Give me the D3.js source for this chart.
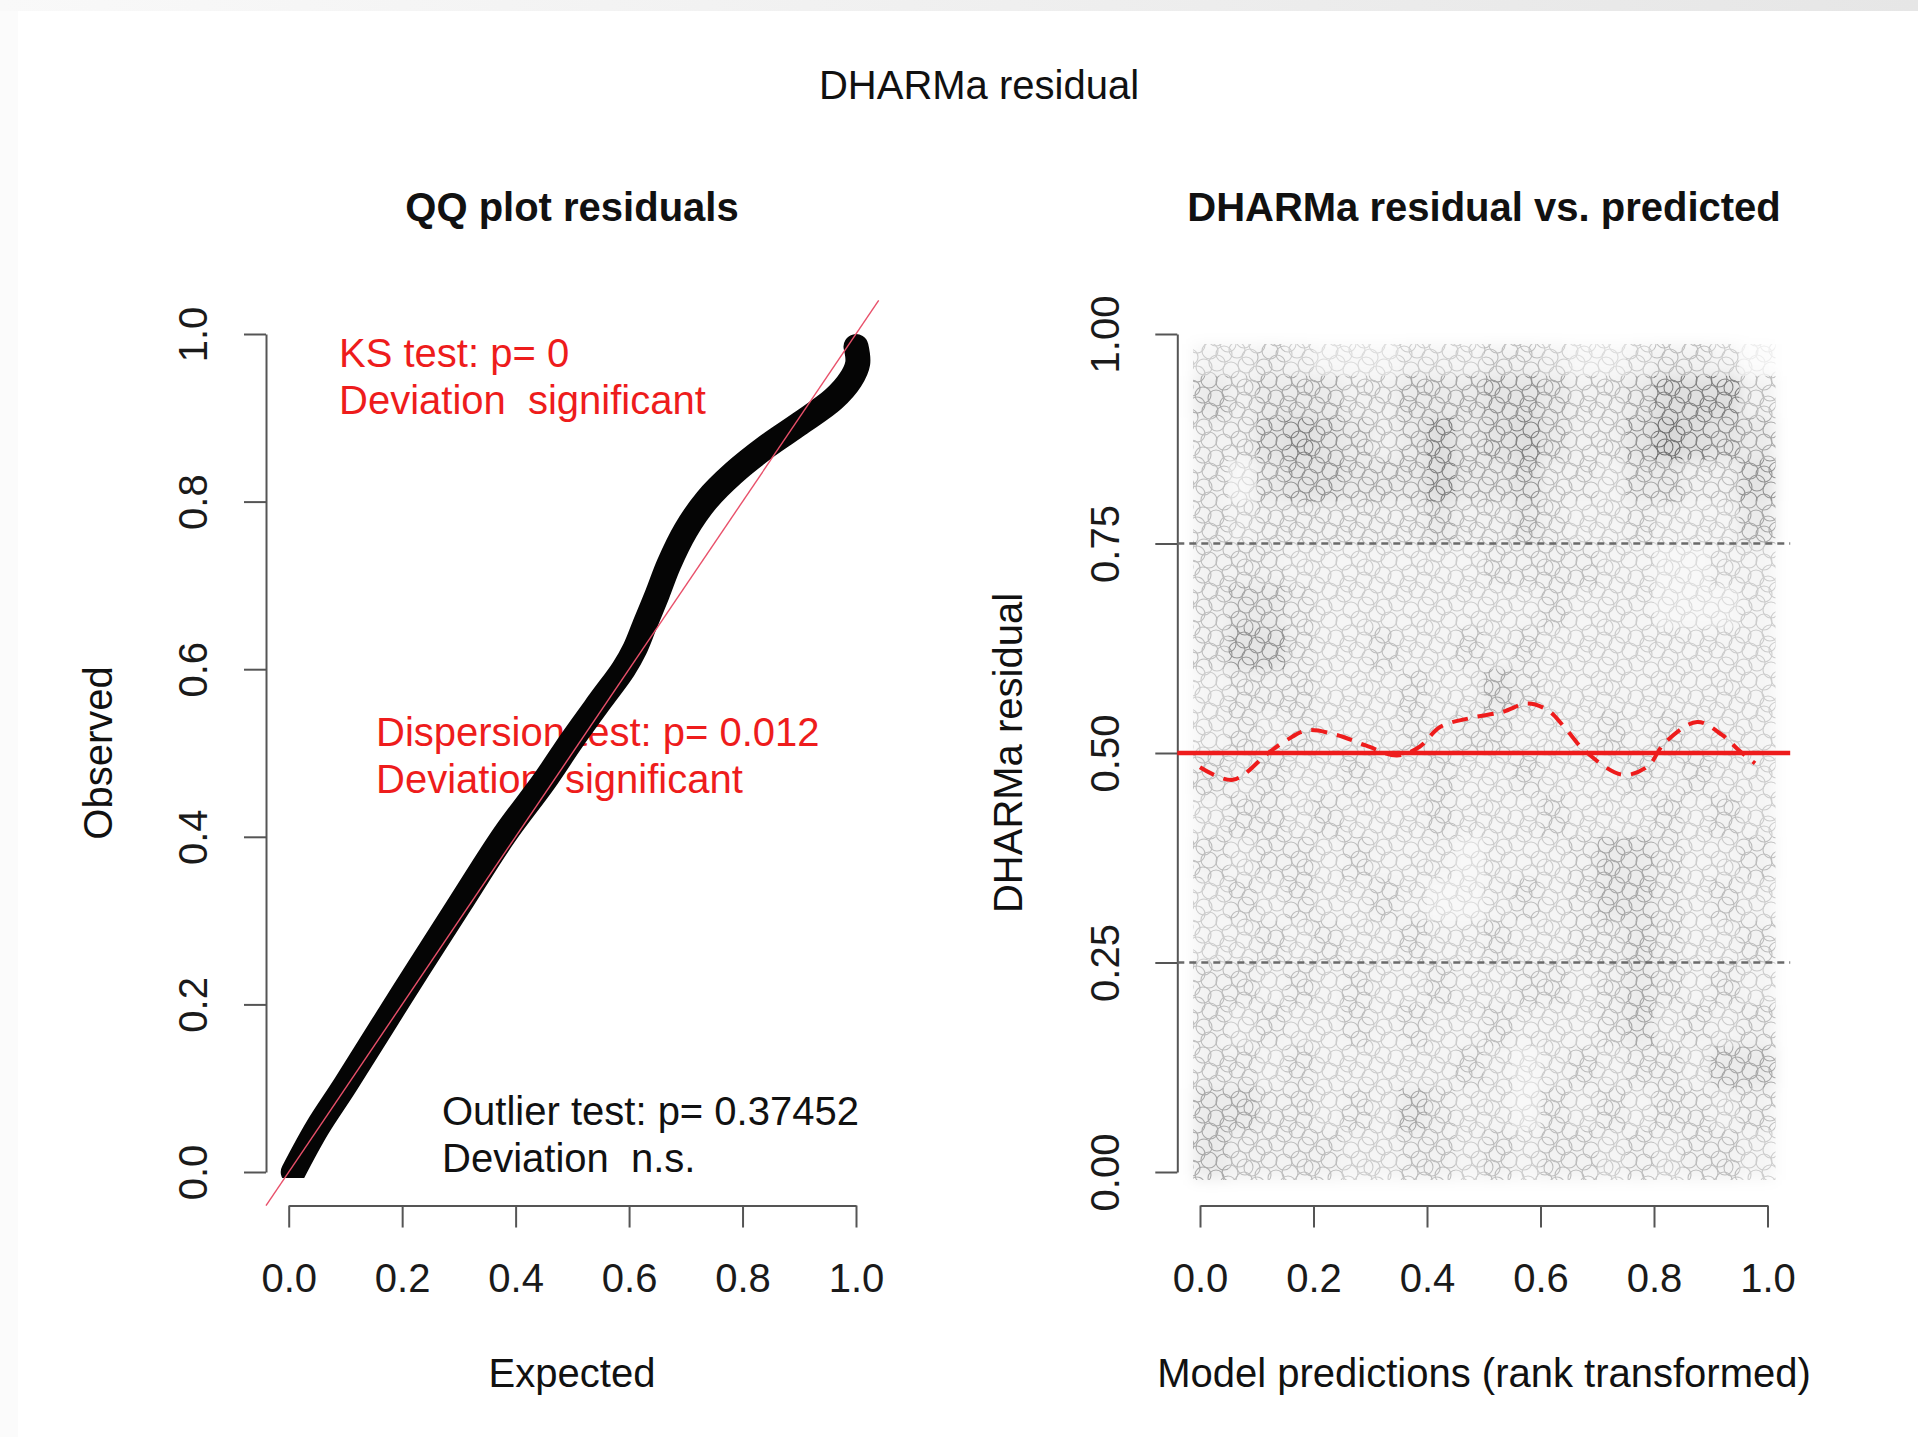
<!DOCTYPE html>
<html><head><meta charset="utf-8">
<script src="https://cdn.jsdelivr.net/npm/d3@7"></script>
<style>
html,body{margin:0;padding:0;background:#fff;}
svg text{font-family:"Liberation Sans",Arial,Helvetica,sans-serif;}
</style></head><body>
<svg id="chart" width="1918" height="1437"></svg>
<script>
// ---------------- data ----------------
const mainTitle = "DHARMa residual";
const qqTitle = "QQ plot residuals";
const resTitle = "DHARMa residual vs. predicted";
const xTicks = [0, 0.2, 0.4, 0.6, 0.8, 1.0];
const yTicksQQ = [0, 0.2, 0.4, 0.6, 0.8, 1.0];
const yTicksRes = [0, 0.25, 0.5, 0.75, 1.0];

// QQ curve (expected vs observed)
const qqExpected = [0.008,0.05,0.10,0.20,0.30,0.38,0.45,0.50,0.55,0.590,0.610,0.627,0.650,0.670,0.700,0.737,0.784,0.843,0.901,0.960,0.990,1.003,1.000];
const qqObserved = [0.000,0.052,0.104,0.212,0.318,0.402,0.466,0.516,0.563,0.600,0.624,0.652,0.690,0.725,0.766,0.802,0.834,0.866,0.893,0.922,0.945,0.965,0.985];

// Test annotations
const ksLines = ["KS test: p= 0", "Deviation  significant"];
const dispLines = ["Dispersion test: p= 0.012", "Deviation  significant"];
const outLines = ["Outlier test: p= 0.37452", "Deviation  n.s."];

// Median quantile spline (red dashed)
const splineX = [0.000,0.058,0.120,0.153,0.189,0.241,0.292,0.347,0.387,0.423,0.474,0.533,0.577,0.613,0.642,0.679,0.745,0.789,0.818,0.876,0.920,0.949,0.978];
const splineY = [0.483,0.468,0.500,0.5155,0.527,0.5215,0.509,0.497,0.5075,0.531,0.5414,0.549,0.559,0.551,0.531,0.502,0.474,0.484,0.5115,0.537,0.5215,0.5036,0.4877];
const quantileLines = [0.25, 0.75];
const medianLine = 0.5;

// Residual point density (relative, 0-10) on a 20x20 grid; rows top (0.95-1) to bottom (0-0.05)
const densityRows = [
 [3,3,4,3,2,2,2,3,3,3,4,4,3,2,2,3,4,4,3,1],
 [5,4,5,5,5,4,4,5,5,5,6,6,5,4,4,5,7,7,7,4],
 [4,4,6,7,6,5,4,5,7,5,6,7,5,4,4,6,8,7,6,5],
 [4,2,5,6,6,5,5,5,7,5,5,6,4,4,3,5,5,4,4,6],
 [4,3,4,4,4,4,4,4,5,4,4,5,4,3,3,4,3,3,3,5],
 [4,4,4,3,3,3,3,3,3,3,4,4,4,4,3,3,2,2,3,3],
 [4,5,5,4,3,3,3,3,3,3,3,3,4,3,3,3,2,2,2,3],
 [4,6,6,4,3,3,4,3,3,4,3,4,3,3,3,3,3,3,3,3],
 [3,4,4,4,3,3,3,4,3,3,5,4,3,3,3,3,3,3,3,3],
 [3,4,3,4,3,3,3,4,3,4,4,3,3,3,4,3,4,3,3,3],
 [4,3,4,3,3,4,3,3,4,3,3,4,3,3,3,4,3,4,3,3],
 [3,4,4,3,4,3,3,3,4,3,3,3,4,3,3,3,4,3,4,3],
 [4,3,4,4,3,4,3,3,3,2,3,3,3,4,5,5,4,3,3,4],
 [3,4,3,4,3,3,4,3,2,2,3,4,3,4,5,5,4,3,4,3],
 [3,3,4,3,4,3,3,4,3,3,4,3,3,4,4,5,4,3,3,4],
 [4,4,3,4,3,4,3,3,4,3,3,4,4,3,4,5,4,3,4,3],
 [4,3,4,3,3,4,3,4,3,3,4,3,3,3,4,5,3,4,3,4],
 [4,4,3,4,3,3,3,3,3,4,3,2,3,4,3,4,4,3,5,5],
 [5,5,4,4,3,4,3,5,4,3,3,2,4,3,4,3,4,4,3,4],
 [5,4,4,4,4,3,3,4,4,3,4,3,4,4,3,4,3,4,4,3]
];

// ---------------- layout ----------------
const svg = d3.select("#chart");
const FONT = 40;
const axisCol = "#555";
const red = "#ee1c1c";

const xL = d3.scaleLinear().domain([0,1]).range([288.7, 856]);
const xR = d3.scaleLinear().domain([0,1]).range([1200, 1767.5]);
const yS = d3.scaleLinear().domain([0,1]).range([1172, 334]);
const axisY = yS(-0.04);

const defs = svg.append("defs");
const grad = defs.append("linearGradient").attr("id","topgrad");
grad.append("stop").attr("offset","0%").attr("stop-color","#f9f9f9");
grad.append("stop").attr("offset","100%").attr("stop-color","#e6e6e6");
svg.append("rect").attr("x",0).attr("y",0).attr("width",1918).attr("height",11).attr("fill","url(#topgrad)");
svg.append("rect").attr("x",0).attr("y",11).attr("width",18).attr("height",1426).attr("fill","#fbfbfb");

// texture pattern of open circles
const T = 60;
const pat = defs.append("pattern").attr("id","circ").attr("patternUnits","userSpaceOnUse")
  .attr("width",T).attr("height",T);
const pc = [[4,7],[17,3],[31,10],[46,5],[57,14],[9,20],[24,22],[39,19],[52,28],[3,35],[16,38],[30,33],[44,40],[57,45],[10,51],[24,54],[37,50],[50,57],[28,44],[45,27]];
pc.forEach(([cx,cy]) => {
  for (const ox of [-T,0,T]) for (const oy of [-T,0,T]) {
    pat.append("circle").attr("cx",cx+ox).attr("cy",cy+oy).attr("r",8)
      .attr("fill","none").attr("stroke","#6a6a6a").attr("stroke-width",1.1);
  }
});
defs.append("filter").attr("id","soft").attr("x","-5%").attr("y","-5%").attr("width","110%").attr("height","110%")
  .append("feGaussianBlur").attr("stdDeviation",7);
defs.append("filter").attr("id","softer")
  .append("feGaussianBlur").attr("stdDeviation",0.7);

function txt(x, y, s, opts={}) {
  const t = svg.append("text").attr("x",x).attr("y",y).text(s)
    .style("font-size",(opts.size||FONT)+"px")
    .attr("fill",opts.fill||"#111")
    .attr("text-anchor",opts.anchor||"start")
    .style("white-space","pre");
  if (opts.bold) t.style("font-weight","bold");
  if (opts.rotate) t.attr("transform",`rotate(-90,${x},${y})`);
  return t;
}
txt(979, 99, mainTitle, {anchor:"middle"});
txt(572, 221, qqTitle, {anchor:"middle", bold:true});
txt(1484, 221, resTitle, {anchor:"middle", bold:true});

function yAxis(scale, ticks, fmt, xpos) {
  const g = svg.append("g").attr("transform",`translate(${xpos},0)`)
    .call(d3.axisLeft(scale).tickValues(ticks).tickFormat(fmt).tickSize(22).tickSizeOuter(0));
  g.attr("font-size",null).attr("font-family",null);
  g.select(".domain").attr("stroke",axisCol).attr("stroke-width",2);
  g.selectAll(".tick line").attr("stroke",axisCol).attr("stroke-width",2);
  g.selectAll(".tick text").attr("x",0).attr("y",-58.7).attr("dy",null)
    .attr("transform","rotate(-90)").attr("text-anchor","middle")
    .style("font-size",FONT+"px").attr("fill","#1a1a1a");
}
function xAxis(scale, ticks, fmt) {
  const g = svg.append("g").attr("transform",`translate(0,${axisY})`)
    .call(d3.axisBottom(scale).tickValues(ticks).tickFormat(fmt).tickSize(22).tickSizeOuter(0));
  g.attr("font-size",null).attr("font-family",null);
  g.select(".domain").attr("stroke",axisCol).attr("stroke-width",2);
  g.selectAll(".tick line").attr("stroke",axisCol).attr("stroke-width",2);
  g.selectAll(".tick text").attr("y",1292-axisY).attr("dy",null)
    .style("font-size",FONT+"px").attr("fill","#1a1a1a");
}

// ---------- left panel: QQ plot ----------
yAxis(yS, yTicksQQ, d3.format(".1f"), xL(-0.04));
xAxis(xL, xTicks, d3.format(".1f"));
txt(572, 1387, "Expected", {anchor:"middle"});
txt(112, 753, "Observed", {anchor:"middle", rotate:true});

ksLines.forEach((s,i) => txt(339, 367 + i*47, s, {fill:red}));
dispLines.forEach((s,i) => txt(376, 746 + i*47, s, {fill:red}));
outLines.forEach((s,i) => txt(442, 1125 + i*47, s, {fill:"#111"}));

defs.append("clipPath").attr("id","qqclip").append("rect")
  .attr("x",xL(-0.04)).attr("y",300).attr("width",xL(1.04)-xL(-0.04)).attr("height",yS(0)+6-300);
const qqData = qqExpected.map((e,i) => [e, qqObserved[i]]);
svg.append("path").datum(qqData)
  .attr("clip-path","url(#qqclip)")
  .attr("d", d3.line().x(d=>xL(d[0])).y(d=>yS(d[1])).curve(d3.curveCatmullRom.alpha(0.5)))
  .attr("fill","none").attr("stroke","#050505").attr("stroke-width",25)
  .attr("stroke-linecap","round").attr("stroke-linejoin","round");
svg.append("line")
  .attr("x1",xL(-0.04)).attr("y1",yS(-0.04)).attr("x2",xL(1.04)).attr("y2",yS(1.04))
  .attr("stroke","#e8506a").attr("stroke-width",1.4);

// ---------- right panel ----------
yAxis(yS, yTicksRes, d3.format(".2f"), xR(-0.04));
xAxis(xR, xTicks, d3.format(".1f"));
txt(1484, 1387, "Model predictions (rank transformed)", {anchor:"middle"});
txt(1022, 753, "DHARMa residual", {anchor:"middle", rotate:true});

const nR = densityRows.length, nC = densityRows[0].length;
const cells = [];
densityRows.forEach((row, r) => row.forEach((d, c) => {
  cells.push({x0: c/nC, x1: (c+1)/nC, yTop: 1 - r/nR, yBot: 1 - (r+1)/nR, d, r, c});
}));
const padL = 7, padR = 8, padT = -10, padB = 8;
function cellRect(sel) {
  sel.attr("x", d => xR(d.x0) - (d.c === 0 ? padL : 0))
     .attr("y", d => yS(d.yTop) - (d.r === 0 ? padT : 0))
     .attr("width", d => xR(d.x1) - xR(d.x0) + (d.c === 0 ? padL : 0) + (d.c === nC-1 ? padR : 0))
     .attr("height", d => yS(d.yBot) - yS(d.yTop) + (d.r === 0 ? padT : 0) + (d.r === nR-1 ? padB : 0));
}
const extra = d => Math.max(0, d - 4);
const toneG = svg.append("g").attr("filter","url(#soft)");
toneG.selectAll("rect").data(cells).join("rect")
  .call(cellRect).attr("fill","#000").attr("fill-opacity", d => 0.013 * d.d + 0.012 * extra(d.d));
const texG = svg.append("g").attr("filter","url(#softer)");
texG.selectAll("rect").data(cells).join("rect")
  .call(cellRect).attr("fill","url(#circ)").attr("opacity", d => Math.min(1, 0.1 * d.d + 0.04 * extra(d.d)));

svg.selectAll("line.q").data(quantileLines).join("line").attr("class","q")
  .attr("x1",xR(-0.04)).attr("x2",xR(1.04)).attr("y1",d=>yS(d)).attr("y2",d=>yS(d))
  .attr("stroke","#6a6a6a").attr("stroke-width",2.5).attr("stroke-dasharray","7,5");
svg.append("line")
  .attr("x1",xR(-0.04)).attr("x2",xR(1.04)).attr("y1",yS(medianLine)).attr("y2",yS(medianLine))
  .attr("stroke",red).attr("stroke-width",4.5);
const spData = splineX.map((x,i) => [x, splineY[i]]);
svg.append("path").datum(spData)
  .attr("d", d3.line().x(d=>xR(d[0])).y(d=>yS(d[1])).curve(d3.curveCatmullRom.alpha(0.5)))
  .attr("fill","none").attr("stroke",red).attr("stroke-width",4).attr("stroke-dasharray","16,10");
</script>
</body></html>
